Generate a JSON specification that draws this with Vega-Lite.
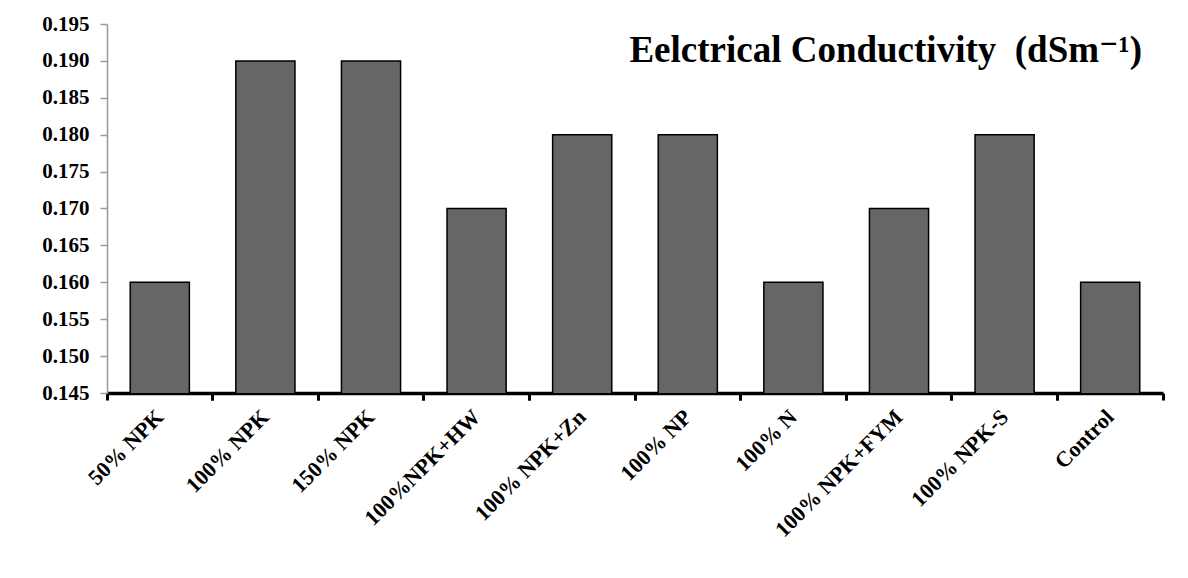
{
  "$schema": "https://vega.github.io/schema/vega-lite/v6.json",
  "width": 1056,
  "height": 369,
  "autosize": {"type": "none"},
  "padding": {"left": 107, "top": 24, "right": 25, "bottom": 185},
  "background": "white",
  "config": {"view": {"stroke": null}, "font": "Liberation Serif"},
  "title": {
    "text": "Eelctrical Conductivity\u00a0 (dSm⁻¹)",
    "orient": "none",
    "anchor": "end",
    "frame": "group",
    "dx": 1035,
    "dy": 38,
    "baseline": "alphabetic",
    "font": "Liberation Serif, DejaVu Serif",
    "fontSize": 37,
    "fontWeight": "bold",
    "color": "black"
  },
  "data": {
    "values": [
      {"treatment": "50% NPK", "ec": 0.16},
      {"treatment": "100% NPK", "ec": 0.19},
      {"treatment": "150% NPK", "ec": 0.19},
      {"treatment": "100%NPK+HW", "ec": 0.17},
      {"treatment": "100% NPK+Zn", "ec": 0.18},
      {"treatment": "100% NP", "ec": 0.18},
      {"treatment": "100% N", "ec": 0.16},
      {"treatment": "100% NPK+FYM", "ec": 0.17},
      {"treatment": "100% NPK-S", "ec": 0.18},
      {"treatment": "Control", "ec": 0.16}
    ]
  },
  "resolve": {"axis": {"x": "independent", "y": "independent"}},
  "layer": [
    {
      "mark": {"type": "bar", "clip": true, "width": {"band": 0.56}, "fill": "#666666", "stroke": "black", "strokeWidth": 1.5},
      "encoding": {
        "x": {
          "field": "treatment",
          "type": "nominal",
          "sort": null,
          "scale": {"paddingInner": 0, "paddingOuter": 0},
          "axis": {
            "orient": "bottom",
            "title": null,
            "bandPosition": 0,
            "labelAngle": -45,
            "labelAlign": "right",
            "labelBaseline": "middle",
            "labelPadding": 13,
            "labelOverlap": false,
            "labelFont": "Liberation Serif",
            "labelFontSize": 22,
            "labelFontWeight": "bold",
            "labelColor": "black",
            "domainColor": "black",
            "domainWidth": 3.5,
            "tickColor": "black",
            "tickWidth": 3,
            "tickSize": 7,
            "grid": false
          }
        },
        "y": {
          "field": "ec",
          "type": "quantitative",
          "scale": {"domain": [0.145, 0.195], "zero": false, "nice": false},
          "axis": {
            "orient": "left",
            "title": null,
            "values": [0.145, 0.15, 0.155, 0.16, 0.165, 0.17, 0.175, 0.18, 0.185, 0.19, 0.195],
            "format": ".3f",
            "labelFont": "Liberation Serif",
            "labelFontSize": 21,
            "labelFontWeight": "bold",
            "labelColor": "black",
            "labelPadding": 11,
            "domainColor": "#999999",
            "domainWidth": 1.5,
            "tickColor": "#999999",
            "tickWidth": 1.5,
            "tickSize": 7,
            "grid": false
          }
        }
      }
    },
    {
      "mark": {"type": "bar", "clip": true, "width": {"band": 0.56}, "opacity": 0},
      "encoding": {
        "x": {
          "field": "treatment",
          "type": "nominal",
          "sort": null,
          "axis": {
            "orient": "bottom",
            "title": null,
            "bandPosition": 1,
            "labels": false,
            "domain": false,
            "tickColor": "black",
            "tickWidth": 3,
            "tickSize": 7,
            "grid": false
          }
        },
        "y": {
          "field": "ec",
          "type": "quantitative",
          "axis": null
        }
      }
    }
  ]
}
